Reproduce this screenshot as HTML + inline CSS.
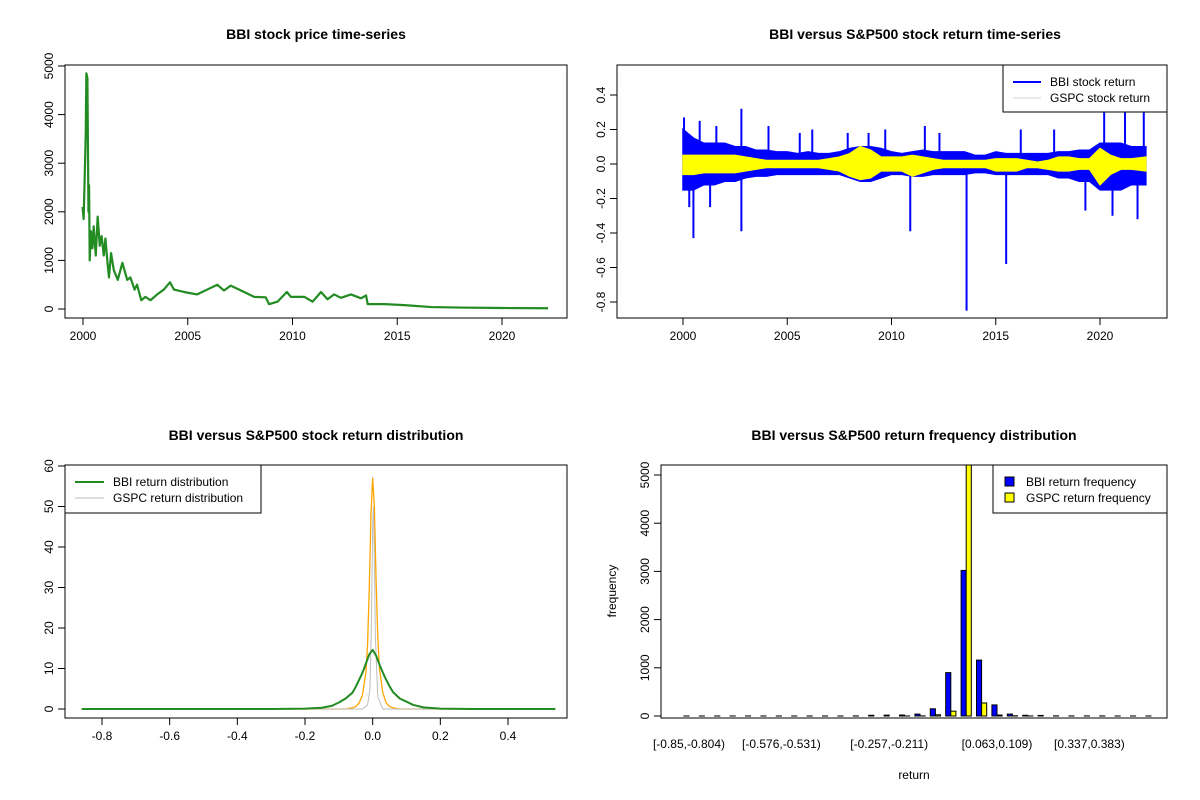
<!DOCTYPE html>
<html><head><meta charset="utf-8"><style>
html,body{margin:0;padding:0;background:#fff}
svg{display:block;font-family:"Liberation Sans",Arial,sans-serif}
</style></head><body>
<svg id="s" width="1200" height="800" viewBox="0 0 1200 800" xmlns="http://www.w3.org/2000/svg">
<rect width="1200" height="800" fill="#fff"/>
<text x="316" y="39" text-anchor="middle" font-weight="bold" font-size="14">BBI stock price time-series</text>
<text x="915" y="39" text-anchor="middle" font-weight="bold" font-size="14">BBI versus S&amp;P500 stock return time-series</text>
<text x="316" y="440" text-anchor="middle" font-weight="bold" font-size="14">BBI versus S&amp;P500 stock return distribution</text>
<text x="914" y="440" text-anchor="middle" font-weight="bold" font-size="14">BBI versus S&amp;P500 return frequency distribution</text>
<text x="914" y="779" text-anchor="middle" font-size="12">return</text>
<text transform="translate(616,591) rotate(-90)" text-anchor="middle" font-size="12">frequency</text>
</svg>
<script>
// ---- price series
const priceYears=[1999.98,2000.03,2000.08,2000.13,2000.16,2000.21,2000.26,2000.29,2000.32,2000.38,2000.45,2000.51,2000.61,2000.70,2000.80,2000.89,2000.99,2001.07,2001.18,2001.24,2001.34,2001.47,2001.66,2001.88,2002.11,2002.26,2002.46,2002.58,2002.78,2002.98,2003.22,2003.54,2003.86,2004.15,2004.34,2004.82,2005.45,2005.93,2006.41,2006.73,2007.05,2007.69,2008.17,2008.72,2008.88,2009.28,2009.73,2009.92,2010.56,2010.96,2011.36,2011.67,2011.99,2012.31,2012.79,2013.27,2013.51,2013.59,2014.39,2015.34,2016.62,2018.0,2020.0,2022.2];
const priceValues=[2100,1850,2700,3600,4850,4750,2000,2550,1000,1600,1250,1700,1100,1900,1300,1500,1100,1450,900,650,1150,800,600,950,600,650,400,500,180,250,180,300,400,550,400,350,300,400,500,380,480,350,250,240,100,150,350,250,250,150,350,200,300,230,300,220,280,100,100,80,40,30,20,15];
const yearTicks=[2000,2005,2010,2015,2020];
const priceTicks=[0,1000,2000,3000,4000,5000];
// ---- return series (envelope per half-year + spikes)
const retYears=[2000,2000.5,2001,2001.5,2002,2002.5,2003,2003.5,2004,2004.5,2005,2005.5,2006,2006.5,2007,2007.5,2008,2008.5,2009,2009.5,2010,2010.5,2011,2011.5,2012,2012.5,2013,2013.5,2014,2014.5,2015,2015.5,2016,2016.5,2017,2017.5,2018,2018.5,2019,2019.5,2020,2020.5,2021,2021.5,2022.2];
const bbiHi=[0.2,0.15,0.12,0.12,0.12,0.1,0.1,0.08,0.08,0.07,0.07,0.06,0.07,0.06,0.06,0.07,0.09,0.1,0.1,0.09,0.07,0.06,0.07,0.08,0.07,0.07,0.07,0.07,0.05,0.05,0.07,0.06,0.06,0.06,0.06,0.06,0.07,0.07,0.08,0.08,0.12,0.12,0.12,0.1,0.1];
const bbiLo=[-0.15,-0.15,-0.12,-0.12,-0.1,-0.1,-0.08,-0.07,-0.07,-0.06,-0.06,-0.06,-0.06,-0.06,-0.06,-0.06,-0.08,-0.1,-0.1,-0.08,-0.06,-0.06,-0.07,-0.07,-0.06,-0.06,-0.06,-0.06,-0.05,-0.05,-0.06,-0.06,-0.06,-0.06,-0.06,-0.06,-0.08,-0.08,-0.1,-0.1,-0.15,-0.15,-0.15,-0.12,-0.12];
const bbiSpikeYears=[2000.05,2000.3,2000.5,2000.8,2001.3,2001.6,2002.8,2002.8,2004.1,2005.6,2006.2,2007.9,2008.9,2009.7,2010.9,2011.6,2012.3,2013.6,2015.5,2016.2,2017.8,2019.3,2020.2,2020.6,2021.2,2021.8,2022.1];
const bbiSpikeValues=[0.27,-0.25,-0.43,0.25,-0.25,0.22,0.32,-0.39,0.22,0.18,0.2,0.18,0.18,0.2,-0.39,0.22,0.18,-0.85,-0.58,0.2,0.2,-0.27,0.35,-0.3,0.32,-0.32,0.3];
const gspcHi=[0.05,0.05,0.05,0.05,0.05,0.05,0.04,0.03,0.02,0.02,0.02,0.02,0.02,0.02,0.03,0.04,0.06,0.1,0.08,0.04,0.04,0.04,0.05,0.04,0.03,0.02,0.02,0.02,0.02,0.02,0.03,0.03,0.03,0.02,0.01,0.02,0.04,0.04,0.03,0.03,0.09,0.05,0.03,0.03,0.04];
const gspcLo=[-0.06,-0.06,-0.05,-0.05,-0.05,-0.05,-0.04,-0.03,-0.02,-0.02,-0.02,-0.02,-0.02,-0.02,-0.03,-0.04,-0.07,-0.09,-0.08,-0.04,-0.04,-0.04,-0.07,-0.05,-0.03,-0.02,-0.02,-0.02,-0.02,-0.02,-0.04,-0.04,-0.04,-0.02,-0.02,-0.03,-0.04,-0.04,-0.03,-0.03,-0.12,-0.06,-0.03,-0.03,-0.04];
const retTicks=[-0.8,-0.6,-0.4,-0.2,0.0,0.2,0.4];
// ---- densities
const bbiDensX=[-0.86,-0.3,-0.2,-0.15,-0.12,-0.1,-0.08,-0.06,-0.05,-0.04,-0.03,-0.02,-0.01,0,0.01,0.02,0.03,0.04,0.05,0.06,0.08,0.1,0.12,0.15,0.2,0.3,0.54];
const bbiDensY=[0,0,0.1,0.3,0.8,1.6,2.6,4.0,5.5,7.2,9.0,11.2,13.5,14.6,13.2,11,9,7.2,5.6,4.2,2.6,1.8,1.0,0.4,0.1,0,0];
const gspcDensX=[-0.86,-0.08,-0.06,-0.05,-0.04,-0.03,-0.02,-0.015,-0.01,-0.005,0,0.005,0.01,0.015,0.02,0.03,0.04,0.05,0.06,0.08,0.54];
const gspcDensY=[0,0,0.3,0.6,1.5,3.5,9,16,30,48,57,50,32,18,10,4,1.5,0.6,0.3,0,0];
const grayDensX=[-0.86,-0.03,-0.015,-0.008,-0.004,0,0.002,0.004,0.008,0.015,0.03,0.54];
const grayDensY=[0,0,1,5,20,45,50,42,18,3,0,0];
const densXTicks=[-0.8,-0.6,-0.4,-0.2,0.0,0.2,0.4];
const densYTicks=[0,10,20,30,40,50,60];
// ---- histogram
const binLabels=["[-0.85,-0.804)","[-0.576,-0.531)","[-0.257,-0.211)","[0.063,0.109)","[0.337,0.383)"];
const binLabelIdx=[0,6,13,20,26];
const bbiFreq=[1,1,1,1,1,1,1,1,1,1,1,2,15,18,20,40,150,900,3020,1160,230,40,15,12,3,2,2,2,1,1,1];
const gspcFreq=[0,0,0,0,0,0,0,0,0,0,0,0,0,0,1,3,25,100,5300,270,20,5,1,0,0,0,0,0,0,0,0];
const freqTicks=[0,1000,2000,3000,4000,5000];

const S=document.getElementById('s');const NS='http://www.w3.org/2000/svg';
function mk(tag,attrs,parent){const e=document.createElementNS(NS,tag);for(const k in attrs)e.setAttribute(k,attrs[k]);(parent||S).appendChild(e);return e;}
function lin(d0,d1,r0,r1){return v=>r0+(v-d0)*(r1-r0)/(d1-d0);}
function box(x0,y0,x1,y1,name){const r=mk('rect',{x:x0,y:y0,width:x1-x0,height:y1-y0,fill:'none',stroke:'#000','stroke-width':1});

}
function xAxis(ticks,fx,y,name,fmt){const g=mk('g',{});


mk('line',{x1:fx(ticks[0]),x2:fx(ticks[ticks.length-1]),y1:y,y2:y,stroke:'#000'},g);
ticks.forEach(t=>{mk('line',{x1:fx(t),x2:fx(t),y1:y,y2:y+7,stroke:'#000'},g);
const tx=mk('text',{x:fx(t),y:y+22,'text-anchor':'middle','font-size':12},g);tx.textContent=fmt?fmt(t):t;});}
function yAxis(ticks,fy,x,name,fmt){const g=mk('g',{});


mk('line',{x1:x,x2:x,y1:fy(ticks[0]),y2:fy(ticks[ticks.length-1]),stroke:'#000'},g);
ticks.forEach(t=>{mk('line',{x1:x,x2:x-7,y1:fy(t),y2:fy(t),stroke:'#000'},g);
const tx=mk('text',{transform:`translate(${x-12},${fy(t)}) rotate(-90)`,'text-anchor':'middle','font-size':12},g);tx.textContent=fmt?fmt(t):t;});}
function poly(xs,ys,fx,fy,color,w,name){const p=mk('polyline',{points:xs.map((v,i)=>fx(v)+','+fy(ys[i])).join(' '),fill:'none',stroke:color,'stroke-width':w,'stroke-linejoin':'round'});

}

// Panel 1
const px=lin(2000,2020,83,502), py=lin(0,5000,309,66);
poly(priceYears,priceValues,px,py,'#228B22',2.2,'price-line');
box(65,65,567,318,'price-plot-box');
xAxis(yearTicks,px,318,'price-x-axis');
yAxis(priceTicks,py,65,'price-y-axis');

// Panel 2
const rx=lin(2000,2020,683,1100), ry=lin(0.4,-0.8,95,302);
function band(hi,lo,color,name){const pts=retYears.map((y,i)=>rx(y)+','+ry(hi[i])).concat(retYears.map((y,i)=>rx(y)+','+ry(lo[i])).reverse());
const p=mk('polygon',{points:pts.join(' '),fill:color,stroke:color,'stroke-width':1.5});

}
band(bbiHi,bbiLo,'#0000FF','bbi-return-band');
bbiSpikeYears.forEach((y,i)=>{const l=mk('line',{x1:rx(y),x2:rx(y),y1:ry(0),y2:ry(bbiSpikeValues[i]),stroke:'#0000FF','stroke-width':2});

});
band(gspcHi,gspcLo,'#FFFF00','gspc-return-band');
box(617,65,1167,318,'return-plot-box');
xAxis(yearTicks,rx,318,'return-x-axis');
yAxis(retTicks,ry,617,'return-y-axis',t=>t.toFixed(1));
{const g=mk('g',{});


mk('rect',{x:1003,y:65,width:164,height:47,fill:'#fff',stroke:'#000'},g);
mk('line',{x1:1013,x2:1041,y1:82,y2:82,stroke:'#0000FF','stroke-width':2},g);
mk('line',{x1:1013,x2:1041,y1:98,y2:98,stroke:'#d3d3d3','stroke-width':1},g);
const a=mk('text',{x:1050,y:86,'font-size':12},g);a.textContent='BBI stock return';
const b=mk('text',{x:1050,y:102,'font-size':12},g);b.textContent='GSPC stock return';}

// Panel 3
const dx=lin(-0.8,0.4,102,508), dy=lin(0,60,709,466);
poly(gspcDensX,gspcDensY,dx,dy,'#FFA500',1.3,'gspc-density-orange');
poly(grayDensX,grayDensY,dx,dy,'#bebebe',1,'gspc-density-gray');
poly(bbiDensX,bbiDensY,dx,dy,'#228B22',2,'bbi-density');
box(65,465,567,718,'density-plot-box');
xAxis(densXTicks,dx,718,'density-x-axis',t=>t.toFixed(1));
yAxis(densYTicks,dy,65,'density-y-axis');
{const g=mk('g',{});


mk('rect',{x:65,y:465,width:196,height:48,fill:'#fff',stroke:'#000'},g);
mk('line',{x1:75,x2:104,y1:482,y2:482,stroke:'#228B22','stroke-width':2},g);
mk('line',{x1:75,x2:104,y1:498,y2:498,stroke:'#bebebe','stroke-width':1},g);
const a=mk('text',{x:113,y:486,'font-size':12},g);a.textContent='BBI return distribution';
const b=mk('text',{x:113,y:502,'font-size':12},g);b.textContent='GSPC return distribution';}

// Panel 4
const hx=i=>689+i*15.4, hy=lin(0,5000,716,475), bw=5.1;
mk('clipPath',{id:'hc'}).appendChild(document.createElementNS(NS,'rect'));
const cr=document.querySelector('#hc rect');cr.setAttribute('x',661);cr.setAttribute('y',465);cr.setAttribute('width',506);cr.setAttribute('height',253);
const hg=mk('g',{'clip-path':'url(#hc)'});
bbiFreq.forEach((v,i)=>{const r=mk('rect',{x:hx(i)-bw,y:hy(v),width:bw,height:hy(0)-hy(v),fill:'#0000FF',stroke:'#000','stroke-width':1},hg);

});
gspcFreq.forEach((v,i)=>{const r=mk('rect',{x:hx(i),y:hy(v),width:bw,height:hy(0)-hy(v),fill:'#FFFF00',stroke:'#000','stroke-width':1},hg);

});
box(661,465,1167,718,'histogram-plot-box');
yAxis(freqTicks,hy,661,'histogram-y-axis');
binLabels.forEach((l,k)=>{const t=mk('text',{x:hx(binLabelIdx[k]),y:748,'text-anchor':'middle','font-size':12});t.textContent=l;

});
{const g=mk('g',{});


mk('rect',{x:993,y:465,width:174,height:48,fill:'#fff',stroke:'#000'},g);
mk('rect',{x:1005,y:477,width:9,height:9,fill:'#0000FF',stroke:'#000'},g);
mk('rect',{x:1005,y:493,width:9,height:9,fill:'#FFFF00',stroke:'#000'},g);
const a=mk('text',{x:1026,y:486,'font-size':12},g);a.textContent='BBI return frequency';
const b=mk('text',{x:1026,y:502,'font-size':12},g);b.textContent='GSPC return frequency';}
</script>
</body></html>
